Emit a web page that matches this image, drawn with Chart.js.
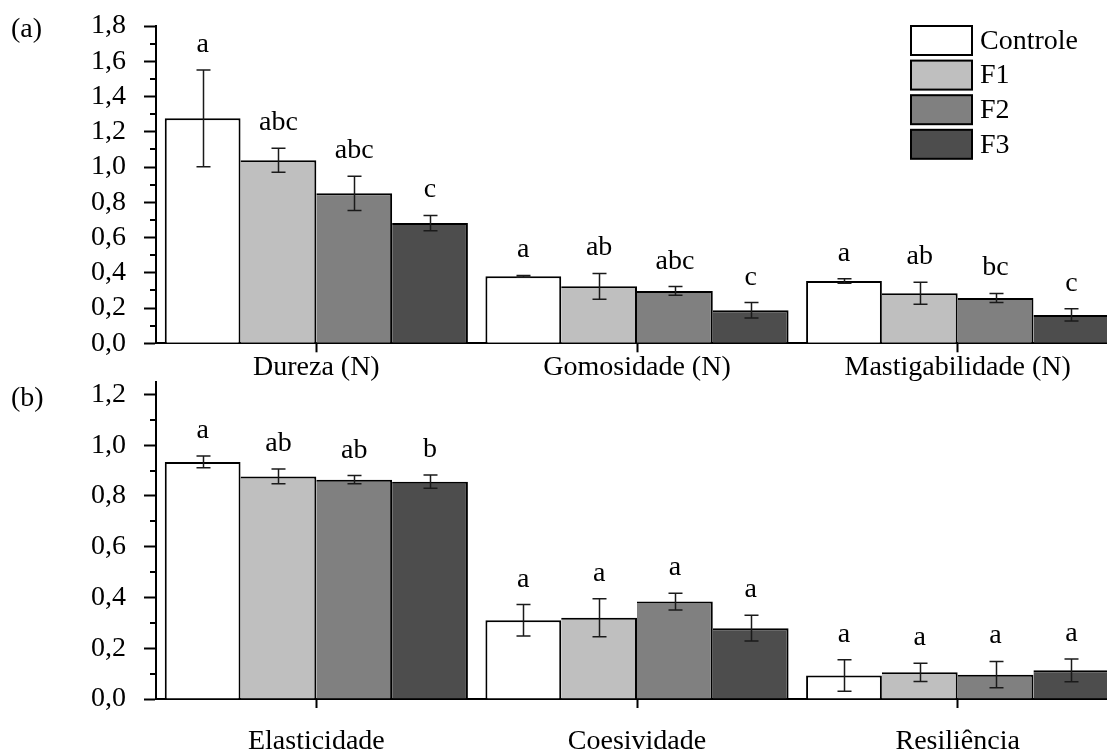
<!DOCTYPE html>
<html><head><meta charset="utf-8">
<script src="https://cdn.jsdelivr.net/npm/chart.js@4.4.0/dist/chart.umd.min.js"></script>
<style>
html,body{margin:0;padding:0;background:#fff;overflow:hidden;width:1107px;height:753px;}
#wrap{position:relative;width:1107px;height:753px;overflow:hidden;background:#fff;}
canvas{position:absolute;left:0;}
#cA{top:0;width:1118px;height:390px;}
#cB{top:360px;width:1118px;height:393px;}
</style></head><body>
<div id="wrap">
<canvas id="cA" width="1118" height="390"></canvas>
<canvas id="cB" width="1118" height="393"></canvas>
</div>
<script>
// ---------- data ----------
const seriesNames = ['Controle', 'F1', 'F2', 'F3'];
const seriesColors = ['#ffffff', '#bfbfbf', '#808080', '#4d4d4d'];

// Panel (a)
const categoriesA = ['Dureza (N)', 'Gomosidade (N)', 'Mastigabilidade (N)'];
const controleA = [1.276, 0.380, 0.353];
const f1A = [1.038, 0.323, 0.284];
const f2A = [0.851, 0.297, 0.257];
const f3A = [0.682, 0.187, 0.161];
const errControleA = [0.275, 0.005, 0.013];
const errF1A = [0.068, 0.073, 0.063];
const errF2A = [0.097, 0.025, 0.026];
const errF3A = [0.043, 0.044, 0.035];
const lettersControleA = ['a', 'a', 'a'];
const lettersF1A = ['abc', 'ab', 'ab'];
const lettersF2A = ['abc', 'abc', 'bc'];
const lettersF3A = ['c', 'c', 'c'];
const yMaxA = 1.8;

// Panel (b)
const categoriesB = ['Elasticidade', 'Coesividade', 'Resiliência'];
const controleB = [0.934, 0.310, 0.093];
const f1B = [0.877, 0.320, 0.105];
const f2B = [0.864, 0.384, 0.096];
const f3B = [0.856, 0.279, 0.113];
const errControleB = [0.023, 0.062, 0.062];
const errF1B = [0.029, 0.075, 0.036];
const errF2B = [0.016, 0.033, 0.052];
const errF3B = [0.026, 0.051, 0.045];
const lettersControleB = ['a', 'a', 'a'];
const lettersF1B = ['ab', 'a', 'a'];
const lettersF2B = ['ab', 'a', 'a'];
const lettersF3B = ['b', 'a', 'a'];
const yMaxB = 1.25;

// ---------- styling ----------
const FONT = "'Liberation Serif', 'Times New Roman', serif";
const FSIZE = 28;
Chart.defaults.font.family = FONT;
Chart.defaults.color = '#000';

const overlay = {
  id: 'overlay',
  afterDatasetsDraw(chart) {
    const ctx = chart.ctx;
    const y = chart.scales.y;
    ctx.save();
    chart.data.datasets.forEach((ds, d) => {
      const meta = chart.getDatasetMeta(d);
      meta.data.forEach((el, i) => {
        const v = ds.data[i], e = ds.errs[i];
        const yt = y.getPixelForValue(v + e), yb = y.getPixelForValue(v - e);
        const x = Math.round(el.x) + 0.5;
        ctx.strokeStyle = '#1a1a1a';
        ctx.lineWidth = 1.5;
        ctx.beginPath();
        ctx.moveTo(x, yt); ctx.lineTo(x, yb);
        ctx.moveTo(x - 7, yt); ctx.lineTo(x + 7, yt);
        ctx.moveTo(x - 7, yb); ctx.lineTo(x + 7, yb);
        ctx.stroke();
        ctx.fillStyle = '#000';
        ctx.font = FSIZE + 'px ' + FONT;
        ctx.textAlign = 'center';
        ctx.textBaseline = 'alphabetic';
        ctx.fillText(ds.letters[i], el.x, yt - 18);
      });
    });
    ctx.restore();
  },
  afterDraw(chart) {
    const ctx = chart.ctx;
    const y = chart.scales.y;
    const o = chart.options.plugins.overlay;
    ctx.save();
    // minor ticks
    ctx.strokeStyle = '#000';
    ctx.lineWidth = 2;
    ctx.beginPath();
    for (let k = 1; k * 0.1 < y.max - 1e-9; k += 2) {
      const py = Math.round(y.getPixelForValue(k * 0.1));
      ctx.moveTo(y.right - 6, py); ctx.lineTo(y.right, py);
    }
    ctx.stroke();
    // panel label
    ctx.fillStyle = '#000';
    ctx.font = FSIZE + 'px ' + FONT;
    ctx.textAlign = 'left';
    ctx.textBaseline = 'middle';
    ctx.fillText(o.panel, 11, o.panelY);
    // legend
    if (o.legend) {
      chart.data.datasets.forEach((ds, d) => {
        const bx = 911, by = 26 + d * 34.6, bw = 61, bh = 29;
        ctx.fillStyle = ds.backgroundColor;
        ctx.fillRect(bx, by, bw, bh);
        ctx.strokeStyle = '#000';
        ctx.lineWidth = 2;
        ctx.strokeRect(bx, by, bw, bh);
        ctx.fillStyle = '#000';
        ctx.textBaseline = 'middle';
        ctx.fillText(ds.label, 980, by + bh / 2 + 1);
      });
    }
    ctx.restore();
  }
};

function makeChart(id, cats, vals, errs, lets, yMax, cfg) {
  return new Chart(document.getElementById(id), {
    type: 'bar',
    data: {
      labels: cats,
      datasets: seriesNames.map((n, i) => ({
        label: n,
        data: vals[i],
        errs: errs[i],
        letters: lets[i],
        backgroundColor: seriesColors[i],
        borderColor: '#000',
        borderWidth: {top: 2, right: 2, bottom: 0, left: i === 0 ? 2 : 0},
        borderSkipped: false,
        categoryPercentage: 0.9454,
        barPercentage: 1
      }))
    },
    options: {
      responsive: false,
      animation: false,
      events: [],
      layout: {padding: {top: cfg.padTop, left: 0, right: 0, bottom: 0}},
      plugins: {
        legend: {display: false},
        tooltip: {enabled: false},
        overlay: {panel: cfg.panel, panelY: cfg.panelY, legend: cfg.legend}
      },
      scales: {
        x: {
          grid: {offset: false, drawOnChartArea: false, tickLength: 9, tickWidth: 2, tickColor: '#000'},
          border: {color: '#000', width: 2},
          ticks: {color: '#000', font: {family: FONT, size: FSIZE, lineHeight: 1}, padding: cfg.xPad, maxRotation: 0, autoSkip: false},
          afterFit(s) { s.height = cfg.xHeight; s.paddingLeft = 0; s.paddingRight = 0; }
        },
        y: {
          min: 0, max: yMax,
          grid: {drawOnChartArea: false, tickLength: 12, tickWidth: 2, tickColor: '#000'},
          border: {color: '#000', width: 2},
          ticks: {stepSize: 0.2, includeBounds: false, color: '#000', font: {family: FONT, size: FSIZE, lineHeight: 1}, padding: 18,
                  callback: v => v.toFixed(1).replace('.', ',')},
          afterFit(s) { s.width = 156; s.paddingTop = 0; s.paddingBottom = 0; }
        }
      }
    },
    plugins: [overlay]
  });
}

makeChart('cA', categoriesA,
  [controleA, f1A, f2A, f3A],
  [errControleA, errF1A, errF2A, errF3A],
  [lettersControleA, lettersF1A, lettersF2A, lettersF3A],
  yMaxA, {padTop: 26, xHeight: 390 - 343.3, xPad: 1.5, panel: '(a)', panelY: 30, legend: true});

makeChart('cB', categoriesB,
  [controleB, f1B, f2B, f3B],
  [errControleB, errF1B, errF2B, errF3B],
  [lettersControleB, lettersF1B, lettersF2B, lettersF3B],
  yMaxB, {padTop: 21.7, xHeight: 393 - 339, xPad: 19.7, panel: '(b)', panelY: 38.7, legend: false});
</script>
</body></html>
